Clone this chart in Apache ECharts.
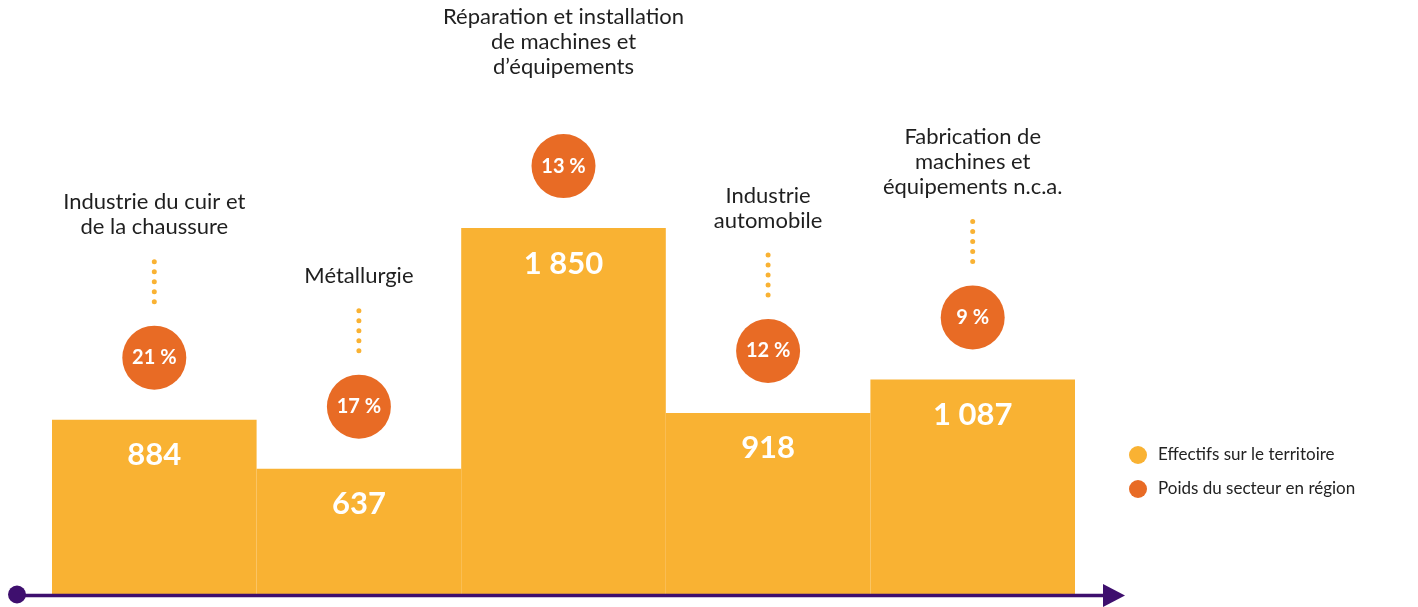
<!DOCTYPE html>
<html>
<head>
<meta charset="utf-8">
<script src="https://cdn.jsdelivr.net/npm/echarts@6/dist/echarts.min.js"></script>
<style>
  html, body { margin: 0; padding: 0; background: #ffffff; }
  #chart { width: 1418px; height: 607px; }
</style>
</head>
<body>
<div id="chart"></div>
<script>
// Secteurs industriels : effectifs sur le territoire et poids du secteur en région
const sectors = [
  'Industrie du cuir et\nde la chaussure',
  'Métallurgie',
  'Réparation et installation\nde machines et\nd’équipements',
  'Industrie\nautomobile',
  'Fabrication de\nmachines et\néquipements n.c.a.'
];
const effectifs = [884, 637, 1850, 918, 1087];
const poidsRegion = [21, 17, 13, 12, 9];
const seriesNames = ['Effectifs sur le territoire', 'Poids du secteur en région'];

const BAR_COLOR = '#F9B233';
const DOT_COLOR = '#E86B25';
const AXIS_COLOR = '#3E0F6E';
const FONT = 'Lato, "DejaVu Sans", sans-serif';

const fmtThousands = v => String(v).replace(/\B(?=(\d{3})+(?!\d))/g, ' ');

const chart = echarts.init(document.getElementById('chart'), null, { renderer: 'canvas' });

// Bubble + dotted leader + sector name, stacked above each bar top
function renderAnnotation(params, api) {
  const idx = api.value(0);
  const top = api.coord([idx, api.value(1)]);
  const cx = top[0];
  const r = 32;
  const cy = top[1] - 62;
  const circleTop = cy - r;
  const name = sectors[idx];
  const lines = name.split('\n').length;
  const lineH = 25;
  const lineBottom = circleTop - 14;
  let textBottom = lineBottom - 50 - 22;
  textBottom = Math.max(textBottom, 4 + lines * lineH);
  const lineTop = textBottom + 22;
  const children = [];
  if (lineBottom - lineTop >= 30) {
    children.push({
      type: 'line',
      shape: { x1: cx, y1: lineTop, x2: cx, y2: lineBottom },
      style: { stroke: BAR_COLOR, lineWidth: 5, lineDash: [0, 10], lineCap: 'round' }
    });
  }
  children.push({
    type: 'circle',
    shape: { cx: cx, cy: cy, r: r },
    style: { fill: DOT_COLOR }
  });
  children.push({
    type: 'text',
    x: cx, y: cy,
    style: {
      text: api.value(2) + ' %',
      align: 'center', verticalAlign: 'middle',
      fontFamily: FONT, fontSize: 20, fontWeight: 'bold', fill: '#ffffff'
    }
  });
  children.push({
    type: 'text',
    x: cx, y: textBottom,
    style: {
      text: name,
      align: 'center', verticalAlign: 'bottom',
      fontFamily: FONT, fontSize: 22, lineHeight: lineH, fill: '#1f1f1f'
    }
  });
  return { type: 'group', children: children };
}

chart.setOption({
  animation: false,
  backgroundColor: '#ffffff',
  grid: { left: 52, right: 343, top: 0, bottom: 12 },
  legend: {
    orient: 'vertical',
    left: 1124, top: 441,
    itemWidth: 22, itemHeight: 18, itemGap: 16,
    icon: 'circle',
    textStyle: { fontFamily: FONT, fontSize: 17, color: '#222222', padding: [0, 0, 0, 4] },
    data: seriesNames
  },
  xAxis: {
    type: 'category',
    data: sectors,
    show: false
  },
  yAxis: { type: 'value', min: 0, max: 3000, show: false },
  series: [
    {
      name: seriesNames[0],
      type: 'bar',
      data: effectifs,
      barWidth: '100%',
      barCategoryGap: 0,
      itemStyle: { color: BAR_COLOR },
      label: {
        show: true,
        position: 'insideTop',
        distance: 20,
        formatter: p => fmtThousands(p.value),
        color: '#ffffff',
        fontFamily: FONT,
        fontSize: 31,
        fontWeight: 'bold'
      },
      z: 2
    },
    {
      name: seriesNames[1],
      type: 'custom',
      coordinateSystem: 'cartesian2d',
      data: effectifs.map((v, i) => [i, v, poidsRegion[i]]),
      encode: { x: 0, y: 1 },
      itemStyle: { color: DOT_COLOR },
      renderItem: renderAnnotation,
      clip: false,
      z: 3
    }
  ]
});

// Baseline arrow: dot at the start, triangle head at the end
const baseY = chart.convertToPixel({ yAxisIndex: 0 }, 0) + 0.5;
chart.setOption({
  graphic: [
    {
      type: 'line', z: 10,
      shape: { x1: 17, y1: baseY, x2: 1108, y2: baseY },
      style: { stroke: AXIS_COLOR, lineWidth: 3.5 }
    },
    {
      type: 'circle', z: 10,
      shape: { cx: 17, cy: baseY - 1, r: 9 },
      style: { fill: AXIS_COLOR }
    },
    {
      type: 'polygon', z: 10,
      shape: { points: [[1103, baseY - 11.5], [1125, baseY], [1103, baseY + 11.5]] },
      style: { fill: AXIS_COLOR }
    }
  ]
});
</script>
</body>
</html>
